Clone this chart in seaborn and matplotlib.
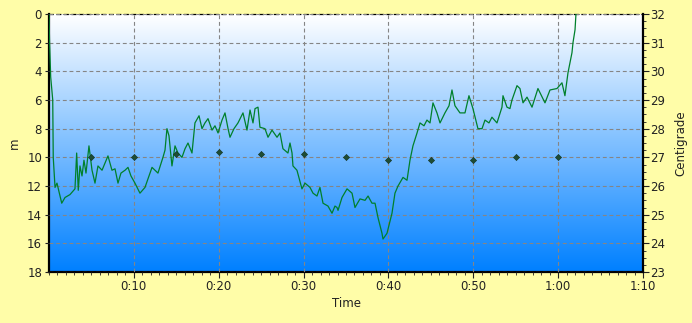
import numpy as np
import pandas as pd
import matplotlib
matplotlib.use("Agg")
import matplotlib.pyplot as plt
from matplotlib.colors import LinearSegmentedColormap
from matplotlib.ticker import MultipleLocator
import seaborn as sns

# ---- data ----
depth_time_min = [0, 0.06, 0.2, 0.44, 0.5, 0.71, 0.94, 1.5, 1.89, 2.47, 3.06, 3.26, 3.45, 3.65, 3.89,
                  4.12, 4.36, 4.71, 5.07, 5.42, 5.77, 6.25, 6.6, 6.95, 7.42, 7.78, 8.13, 8.48, 8.96,
                  9.31, 9.66, 10.13, 10.72, 11.31, 11.67, 12.14, 12.49, 12.84, 13.43, 13.67, 13.9,
                  14.14, 14.49, 14.85, 15.2, 15.67, 16.03, 16.38, 16.85, 17.2, 17.68, 18.03, 18.38,
                  18.74, 19.21, 19.56, 19.92, 20.39, 20.74, 21.1, 21.33, 21.8, 22.27, 22.86, 23.33,
                  23.69, 24.04, 24.28, 24.63, 24.86, 25.45, 25.81, 26.28, 26.87, 27.22, 27.57, 28.16,
                  28.4, 28.64, 28.75, 29.22, 29.81, 30.17, 30.76, 31.11, 31.58, 31.93, 32.29, 32.88,
                  33.35, 33.7, 33.94, 34.06, 34.53, 35.12, 35.71, 36.06, 36.65, 37.24, 37.6, 38.06,
                  38.42, 38.77, 39.24, 39.36, 39.83, 40.42, 40.77, 41.13, 41.72, 42.19, 42.54, 42.89,
                  43.37, 43.72, 44.19, 44.54, 44.9, 45.25, 45.72, 46.08, 46.66, 47.14, 47.49, 47.84,
                  48.43, 49.02, 49.49, 49.96, 50.55, 51.03, 51.38, 51.85, 52.2, 52.79, 53.38, 53.5,
                  53.97, 54.32, 54.56, 55.15, 55.5, 55.86, 56.33, 56.92, 57.62, 58.45, 59.04, 59.86,
                  60.45, 60.8, 61.16, 61.63, 61.75, 61.99, 62.1]
depth_m = [0, 1.8, 4.4, 6.0, 10.0, 12.1, 11.8, 13.2, 12.8, 12.6, 12.2, 9.7, 12.3, 10.6, 11.3,
           10.2, 11.1, 9.2, 10.9, 11.8, 10.6, 10.9, 10.4, 9.9, 10.9, 10.8, 11.8, 11.1, 10.9,
           10.7, 11.3, 11.8, 12.5, 12.1, 11.5, 10.7, 10.9, 11.1, 10.0, 9.5, 8.0,
           8.5, 10.6, 9.2, 9.7, 10.0, 9.4, 9.0, 9.7, 7.6, 7.1, 8.0, 7.6,
           7.3, 8.1, 7.8, 8.3, 7.4, 6.9, 8.0, 8.6, 8.0, 7.6, 6.9, 8.1,
           6.7, 7.6, 6.6, 6.5, 7.9, 8.0, 8.6, 8.1, 8.6, 8.3, 9.4, 9.7,
           9.0, 9.7, 10.6, 10.9, 12.2, 11.8, 12.1, 12.5, 12.7, 12.1, 13.2, 13.4,
           13.9, 13.4, 13.5, 13.7, 12.8, 12.2, 12.5, 13.5, 12.9, 13.0, 12.7, 13.2,
           13.2, 14.2, 15.3, 15.7, 15.3, 13.9, 12.5, 12.0, 11.4, 11.6, 10.2, 9.2,
           8.3, 7.6, 7.8, 7.4, 7.6, 6.2, 6.9, 7.6, 6.9, 6.4, 5.3, 6.4,
           6.9, 6.9, 5.7, 6.6, 8.0, 8.0, 7.4, 7.6, 7.2, 7.6, 6.5, 5.7,
           6.5, 6.6, 6.0, 5.0, 5.2, 6.2, 5.8, 6.5, 5.2, 6.2, 5.3, 5.2,
           4.8, 5.7, 4.1, 2.7, 2.0, 1.1, 0]

temp_time_min = [5, 10, 15, 20, 25, 30, 35, 40, 45, 50, 55, 60]
temp_c = [27.0, 27.0, 27.1, 27.2, 27.1, 27.1, 27.0, 26.9, 26.9, 26.9, 27.0, 27.0]

time_ticks = [10, 20, 30, 40, 50, 60, 70]
time_labels = ["0:10", "0:20", "0:30", "0:40", "0:50", "1:00", "1:10"]

depth_df = pd.DataFrame({"time": depth_time_min, "depth": depth_m})
temp_df = pd.DataFrame({"time": temp_time_min, "temp": temp_c})

# ---- style ----
sns.set_theme(style="white")
plt.rcParams["font.family"] = ["DejaVu Sans"]
bg = "#FFFDA8"
txt = "#222222"

fig = plt.figure(figsize=(6.92, 3.23), dpi=100, facecolor=bg)
ax = fig.add_axes([49 / 692, 1 - 272 / 323, (643 - 49) / 692, (272 - 14) / 323])

# gradient background
cmap = LinearSegmentedColormap.from_list("sea", ["#FFFFFF", "#0080FF"])
grad = np.linspace(0, 1, 256).reshape(-1, 1)
ax.imshow(grad, cmap=cmap, aspect="auto", extent=[0, 1, 0, 1],
          transform=ax.transAxes, origin="upper", zorder=0)

sns.lineplot(data=depth_df, x="time", y="depth", ax=ax, sort=False, estimator=None,
             color="#00802B", linewidth=0.9, zorder=3)

ax.set_xlim(0, 70)
ax.set_ylim(18, 0)
ax.set_xticks(time_ticks)
ax.set_xticklabels(time_labels)
ax.xaxis.set_minor_locator(MultipleLocator(1))
ax.set_yticks(np.arange(0, 19, 2))
ax.grid(True, which="major", color="#858585", linestyle=(0, (3.5, 2.5)), linewidth=0.8, zorder=1)
ax.set_axisbelow(False)
for l in ax.get_xgridlines() + ax.get_ygridlines():
    l.set_zorder(1)

ax.tick_params(axis="both", which="major", labelsize=8.5, colors=txt, length=3, width=0.8,
               direction="out", pad=2)
ax.tick_params(axis="x", which="minor", length=2, width=0.6, color=txt, direction="out", bottom=True)
ax.tick_params(axis="x", which="major", bottom=True, length=4)
ax.tick_params(axis="y", which="major", left=True)
ax.set_xlabel("Time", fontsize=8.5, color=txt)
ax.set_ylabel("m", fontsize=8.5, color=txt)
ax.xaxis.set_label_coords(0.5, -0.095)
ax.yaxis.set_label_coords(-0.048, 0.5)

for side in ["left", "bottom"]:
    ax.spines[side].set_color("black")
    ax.spines[side].set_linewidth(1.6)
ax.spines["top"].set_color("black")
ax.spines["top"].set_linewidth(0.9)
ax.spines["top"].set_linestyle((0, (3, 3)))
ax.spines["right"].set_visible(False)

# temperature axis
ax2 = ax.twinx()
sns.scatterplot(data=temp_df, x="time", y="temp", ax=ax2, marker="D", s=10,
                color="#1E4D35", edgecolor="#0F3020", linewidth=0.4, zorder=4)
ax2.set_ylim(23, 32)
ax2.set_xlim(0, 70)
ax2.set_yticks(np.arange(23, 33, 1))
ax2.yaxis.set_minor_locator(MultipleLocator(0.25))
ax2.tick_params(axis="y", which="major", labelsize=8.5, colors=txt, length=4, width=0.8,
                direction="out", pad=1, right=True)
ax2.tick_params(axis="y", which="minor", length=2, width=0.6, color=txt, direction="out", right=True)
ax2.set_ylabel("Centigrade", fontsize=8.5, color=txt)
ax2.yaxis.set_label_coords(1.052, 0.5)
ax2.grid(False)
for side in ["left", "top", "bottom"]:
    ax2.spines[side].set_visible(False)
ax2.spines["right"].set_color("black")
ax2.spines["right"].set_linewidth(1.6)

fig.savefig("out.png", dpi=100, facecolor=bg)
